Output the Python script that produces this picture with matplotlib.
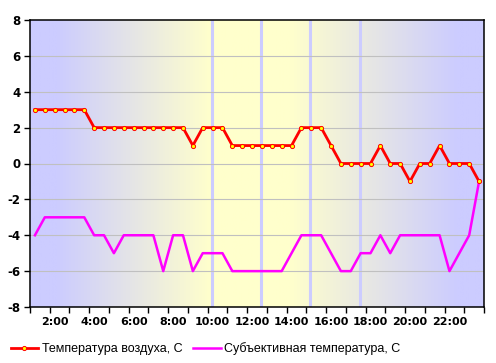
import matplotlib
matplotlib.use('Agg')
from matplotlib import pyplot as plt
from matplotlib.colors import LinearSegmentedColormap
import numpy as np

# half-hour categories 1:00 .. 23:30
times = ['%d:%02d' % (h, m) for h in range(1, 24) for m in (0, 30)]
air = [3, 3, 3, 3, 3, 3, 2, 2, 2, 2, 2, 2, 2, 2, 2, 2, 1, 2, 2, 2,
       1, 1, 1, 1, 1, 1, 1, 2, 2, 2, 1, 0, 0, 0, 0, 1, 0, 0, -1, 0,
       0, 1, 0, 0, 0, -1]
feel = [-4, -3, -3, -3, -3, -3, -4, -4, -5, -4, -4, -4, -4, -6, -4, -4, -6, -5, -5, -5,
        -6, -6, -6, -6, -6, -6, -5, -4, -4, -4, -5, -6, -6, -5, -5, -4, -5, -4, -4, -4,
        -4, -4, -6, -5, -4, -1]
marks = [17.9, 22.9, 27.9, 32.9]
yticks = [-8, -6, -4, -2, 0, 2, 4, 6, 8]
labels = ['2:00', '4:00', '6:00', '8:00', '10:00', '12:00', '14:00', '16:00',
          '18:00', '20:00', '22:00']

blue = '#ccccff'
yellow = '#ffffcc'
n = len(times)
x = np.arange(n)

fig = plt.figure(figsize=(4.96, 3.63), dpi=100)
ax = fig.add_axes([30 / 496, 1 - 307 / 363, 454 / 496, 287 / 363])
plt.rcParams['font.family'] = ['Liberation Sans', 'DejaVu Sans']

# background gradient: night blue -> day yellow -> night blue
x0, x1 = -0.5, n - 0.5
stops = [(2.1, blue), (17.8, yellow), (25.9, yellow), (42.9, blue)]
cm = LinearSegmentedColormap.from_list(
    'bg', [(0, blue)] + [((p - x0) / (x1 - x0), c) for p, c in stops] + [(1, blue)])
ax.imshow(np.linspace(0, 1, 600).reshape(1, -1), cmap=cm, aspect='auto',
          extent=[x0, x1, -8, 8], zorder=0)

for m in marks:
    ax.axvline(m, color='#ccccff', lw=2.2, zorder=1)
for yv in yticks[1:-1]:
    ax.axhline(yv, color='#c0c0c0', lw=0.8, zorder=1)

ax.plot(x, air, color='red', lw=2, marker='o', ms=3, mfc='yellow', mec='red',
        mew=0.7, label='Температура воздуха, С', zorder=3)
ax.plot(x, feel, color='magenta', lw=1.8, label='Субъективная температура, С', zorder=2)

ax.set_xlim(x0, x1)
ax.set_ylim(-8, 8)
ax.set_yticks(yticks)
ax.set_yticklabels([str(v) for v in yticks], fontweight='bold', fontsize=8.5)
ax.set_xticks([times.index(l) for l in labels])
ax.set_xticklabels(labels, fontweight='bold', fontsize=8)
ax.set_xticks(np.arange(-0.5, n, 2), minor=True)
ax.tick_params(axis='x', which='major', length=0, pad=7)
ax.tick_params(axis='x', which='minor', length=4, width=1, direction='out')
ax.tick_params(axis='y', length=4, width=1, direction='out', pad=3)
for s in ax.spines.values():
    s.set_linewidth(1.1)
    s.set_color('black')

fig.legend(loc='lower left', bbox_to_anchor=(0.005, 0.0), ncol=2, frameon=False,
           fontsize=9, handlelength=2.2, handletextpad=0.3, columnspacing=0.85,
           borderaxespad=0.25)

plt.savefig('out.png', dpi=100)
